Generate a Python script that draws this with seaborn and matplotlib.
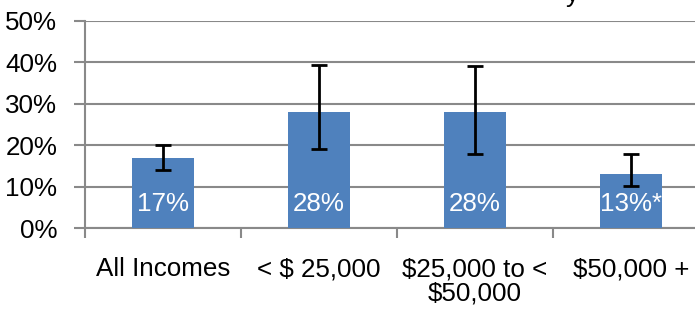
import matplotlib
matplotlib.use("Agg")
import matplotlib.pyplot as plt
import seaborn as sns
import pandas as pd
import numpy as np

categories = ["All Incomes", "< $ 25,000", "$25,000 to <\n$50,000", "$50,000 +"]
values = [17, 28, 28, 13]
err_low = [14, 19, 18, 10.2]
err_high = [20, 39.3, 39, 18]
bar_labels = ["17%", "28%", "28%", "13%*"]
yticks = [0, 10, 20, 30, 40, 50]
ytick_labels = ["0%", "10%", "20%", "30%", "40%", "50%"]

sns.set_theme(style="white")
plt.rcParams['font.family'] = ['Liberation Sans', 'DejaVu Sans']

FS = 18.7
W, H = 695, 310
fig = plt.figure(figsize=(W / 100, H / 100), dpi=100)
left, right, bottom, top = 85, 709, 228.2, 20.7
ax = fig.add_axes([left / W, 1 - bottom / H, (right - left) / W, (bottom - top) / H])

df = pd.DataFrame({"cat": categories, "val": values})
sns.barplot(data=df, x="cat", y="val", ax=ax, color="#4F81BD", saturation=1,
            width=0.4, errorbar=None, zorder=3, edgecolor="none")

x = np.arange(len(categories))
vals = np.array(values)
yerr = np.vstack([vals - np.array(err_low), np.array(err_high) - vals])
ax.errorbar(x, vals, yerr=yerr, fmt="none", ecolor="black", elinewidth=2,
            capsize=6, capthick=2, zorder=4)

for xi, lab in zip(x, bar_labels):
    ax.annotate(lab, (xi, 0), xytext=(0, 24), textcoords="offset pixels",
                ha="center", va="center", color="white", fontsize=FS, zorder=5)

ax.set_xlim(-0.5, 3.5)
ax.set_ylim(0, 50)
ax.set_yticks(yticks)
ax.set_yticklabels(ytick_labels, fontsize=FS)
ax.yaxis.grid(True, color="#898989", linewidth=1.5, zorder=0)
ax.set_axisbelow(True)

ax.set_xticks(x)
ax.set_xticklabels(categories, fontsize=FS, linespacing=1.0)
ax.set_xticks(np.arange(len(categories) + 1) - 0.5, minor=True)
ax.tick_params(axis="x", which="major", length=0, pad=21)
ax.tick_params(axis="x", which="minor", length=7, width=1.5, color="#898989", direction="out", bottom=True)
ax.tick_params(axis="y", length=8, width=1.5, color="#898989", direction="out", left=True, pad=12)

ax.set_xlabel("")
ax.set_ylabel("")
for s in ["top", "right"]:
    ax.spines[s].set_visible(False)
for s in ["left", "bottom"]:
    ax.spines[s].set_color("#898989")
    ax.spines[s].set_linewidth(1.5)
for lab in ax.get_xticklabels() + ax.get_yticklabels():
    lab.set_color("black")

# remnant of a cut-off title at the top edge (as in the reference)
fig.text(572 / W, 1 - 2 / H, "y", ha="center", va="baseline", fontsize=FS, color="black")

fig.savefig("out.png", dpi=100)
